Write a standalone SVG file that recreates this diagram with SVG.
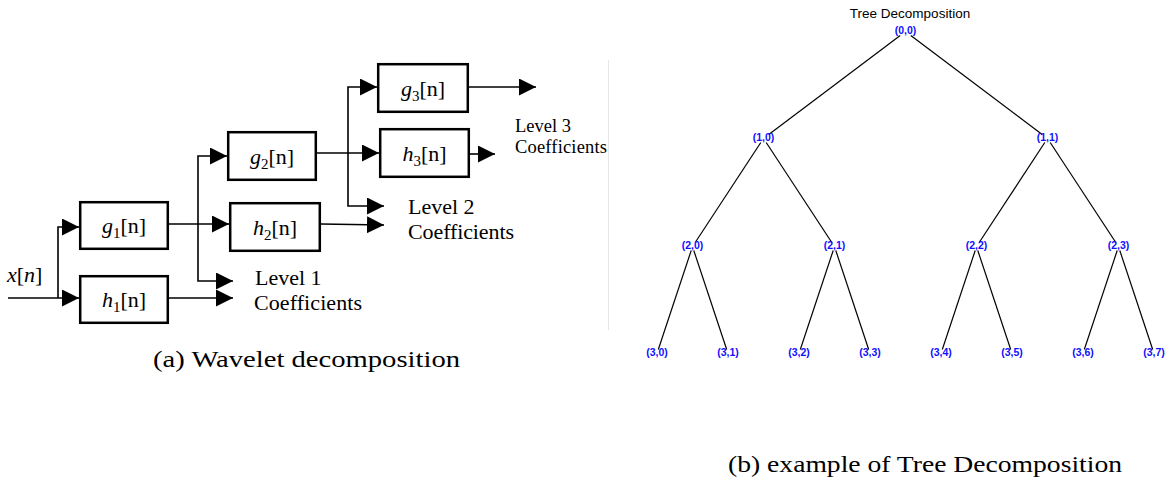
<svg xmlns="http://www.w3.org/2000/svg" width="1166" height="484" viewBox="0 0 1166 484">
<style>
.box{fill:#fff;stroke:#000;stroke-width:2.5}
.wire{fill:none;stroke:#000;stroke-width:1.6}
.math{font-family:"Liberation Serif",serif;font-size:22px;fill:#000}
.it{font-style:italic}
.lvl{font-family:"Liberation Serif",serif;font-size:22px;fill:#000}
.lvl3{font-family:"Liberation Serif",serif;font-size:18.5px;fill:#000}
.cap{font-family:"Liberation Serif",serif;font-size:24px;fill:#000}
.edge{stroke:#000;stroke-width:1.2;fill:none}
.nl{font-family:"Liberation Sans",Arial,sans-serif;font-size:10.5px;font-weight:bold;fill:#1010ff;text-anchor:middle}
.title{font-family:"Liberation Sans",Arial,sans-serif;font-size:13.5px;fill:#000;text-anchor:middle}
</style>
<defs>
<marker id="arr" markerUnits="userSpaceOnUse" markerWidth="17" markerHeight="17" viewBox="0 0 17 17" refX="17" refY="8.5" orient="auto">
<path d="M0,0 L17,8.5 L0,17 z" fill="#000"/>
</marker>
</defs>
<rect width="1166" height="484" fill="#fff"/>

<!-- (a) wavelet decomposition -->
<g id="connectors-a">
<path class="wire" d="M8,298 H79" marker-end="url(#arr)"/>
<path class="wire" d="M58,298 V227 H79" marker-end="url(#arr)"/>
<path class="wire" d="M169,224 H229" marker-end="url(#arr)"/>
<path class="wire" d="M198,224 V156 H227" marker-end="url(#arr)"/>
<path class="wire" d="M198,224 V281 H233" marker-end="url(#arr)"/>
<path class="wire" d="M169,298 H233" marker-end="url(#arr)"/>
<path class="wire" d="M317,153 H379" marker-end="url(#arr)"/>
<path class="wire" d="M348,153 V87 H377" marker-end="url(#arr)"/>
<path class="wire" d="M348,153 V206 H384" marker-end="url(#arr)"/>
<path class="wire" d="M321,224 L384,225" marker-end="url(#arr)"/>
<path class="wire" d="M469,87 H536" marker-end="url(#arr)"/>
<path class="wire" d="M470,154 H495" marker-end="url(#arr)"/>
</g>

<g id="input">
<text class="math" x="7" y="282" font-size="23"><tspan class="it">x</tspan>[<tspan class="it">n</tspan>]</text>
</g>
<g id="g1">
<rect class="box" x="80.2" y="202.2" width="87.6" height="46.6"/>
<text class="math" x="124" y="233" text-anchor="middle"><tspan class="it">g</tspan><tspan font-size="15" dy="5">1</tspan><tspan dy="-5">[n]</tspan></text>
</g>
<g id="h1">
<rect class="box" x="80.2" y="276.2" width="87.6" height="46.6"/>
<text class="math" x="124" y="307" text-anchor="middle"><tspan class="it">h</tspan><tspan font-size="15" dy="5">1</tspan><tspan dy="-5">[n]</tspan></text>
</g>
<g id="g2">
<rect class="box" x="228.2" y="132.2" width="87.6" height="47.6"/>
<text class="math" x="272" y="163.5" text-anchor="middle"><tspan class="it">g</tspan><tspan font-size="15" dy="5">2</tspan><tspan dy="-5">[n]</tspan></text>
</g>
<g id="h2">
<rect class="box" x="230.2" y="203.2" width="89.6" height="47.6"/>
<text class="math" x="275" y="234.5" text-anchor="middle"><tspan class="it">h</tspan><tspan font-size="15" dy="5">2</tspan><tspan dy="-5">[n]</tspan></text>
</g>
<g id="g3">
<rect class="box" x="378.2" y="64.2" width="89.6" height="47.6"/>
<text class="math" x="423" y="95.5" text-anchor="middle"><tspan class="it">g</tspan><tspan font-size="15" dy="5">3</tspan><tspan dy="-5">[n]</tspan></text>
</g>
<g id="h3">
<rect class="box" x="380.2" y="129.2" width="88.6" height="47.6"/>
<text class="math" x="424.5" y="160.5" text-anchor="middle"><tspan class="it">h</tspan><tspan font-size="15" dy="5">3</tspan><tspan dy="-5">[n]</tspan></text>
</g>
<g id="level1">
<text class="lvl" x="255" y="285">Level 1</text>
<text class="lvl" x="254" y="310" textLength="108">Coefficients</text>
</g>
<g id="level2">
<text class="lvl" x="408" y="213.5">Level 2</text>
<text class="lvl" x="408" y="238.5" textLength="106">Coefficients</text>
</g>
<g id="level3">
<text class="lvl3" x="515" y="131.7">Level 3</text>
<text class="lvl3" x="515" y="153.3" textLength="92">Coefficients</text>
</g>
<text class="cap" x="153" y="367" textLength="307" lengthAdjust="spacingAndGlyphs">(a) Wavelet decomposition</text>

<line x1="608.5" y1="60" x2="608.5" y2="330" stroke="#e6e6e6" stroke-width="1"/>

<!-- (b) tree decomposition -->
<text class="title" x="910" y="18">Tree Decomposition</text>
<g id="connectors-b">
<line class="edge" x1="900.2" y1="35.5" x2="768.8" y2="134.5"/>
<line class="edge" x1="910.8" y1="35.5" x2="1042.2" y2="134.5"/>
<line class="edge" x1="760.8" y1="142.5" x2="695.2" y2="242.5"/>
<line class="edge" x1="766.2" y1="142.5" x2="831.8" y2="242.5"/>
<line class="edge" x1="1044.8" y1="142.5" x2="979.2" y2="242.5"/>
<line class="edge" x1="1050.2" y1="142.5" x2="1115.8" y2="242.5"/>
<line class="edge" x1="691.2" y1="250.5" x2="658.3" y2="349.5"/>
<line class="edge" x1="693.8" y1="250.5" x2="726.7" y2="349.5"/>
<line class="edge" x1="833.2" y1="250.5" x2="800.3" y2="349.5"/>
<line class="edge" x1="835.8" y1="250.5" x2="868.7" y2="349.5"/>
<line class="edge" x1="975.2" y1="250.5" x2="942.3" y2="349.5"/>
<line class="edge" x1="977.8" y1="250.5" x2="1010.7" y2="349.5"/>
<line class="edge" x1="1117.2" y1="250.5" x2="1084.3" y2="349.5"/>
<line class="edge" x1="1119.8" y1="250.5" x2="1152.7" y2="349.5"/>
</g>
<g id="n00"><text class="nl" x="905.5" y="34.3">(0,0)</text></g>
<g id="n10"><text class="nl" x="763.5" y="141.3">(1,0)</text></g>
<g id="n11"><text class="nl" x="1047.5" y="141.3">(1,1)</text></g>
<g id="n20"><text class="nl" x="692.5" y="249.3">(2,0)</text></g>
<g id="n21"><text class="nl" x="834.5" y="249.3">(2,1)</text></g>
<g id="n22"><text class="nl" x="976.5" y="249.3">(2,2)</text></g>
<g id="n23"><text class="nl" x="1118.5" y="249.3">(2,3)</text></g>
<g id="n30"><text class="nl" x="657" y="356.3">(3,0)</text></g>
<g id="n31"><text class="nl" x="728" y="356.3">(3,1)</text></g>
<g id="n32"><text class="nl" x="799" y="356.3">(3,2)</text></g>
<g id="n33"><text class="nl" x="870" y="356.3">(3,3)</text></g>
<g id="n34"><text class="nl" x="941" y="356.3">(3,4)</text></g>
<g id="n35"><text class="nl" x="1012" y="356.3">(3,5)</text></g>
<g id="n36"><text class="nl" x="1083" y="356.3">(3,6)</text></g>
<g id="n37"><text class="nl" x="1154" y="356.3">(3,7)</text></g>
<text class="cap" x="728" y="472" textLength="394" lengthAdjust="spacingAndGlyphs">(b) example of Tree Decomposition</text>
</svg>
